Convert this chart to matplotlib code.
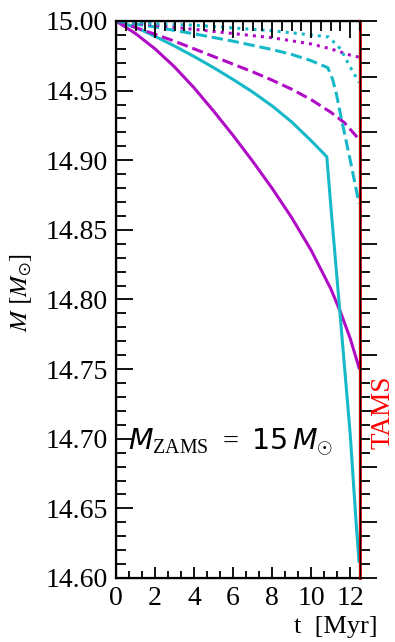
import matplotlib
matplotlib.use("Agg")
import matplotlib.pyplot as plt
from matplotlib.ticker import MultipleLocator, NullFormatter

plt.rcParams['font.family'] = ['Liberation Serif', 'DejaVu Serif']
plt.rcParams['mathtext.fontset'] = 'custom'
plt.rcParams['mathtext.rm'] = 'Liberation Serif'
plt.rcParams['mathtext.it'] = 'DejaVu Sans:italic'
plt.rcParams['mathtext.sf'] = 'DejaVu Sans'

# time [Myr] and mass [Msun]
t_mag_solid = [0, 1, 2, 3, 4, 5, 6, 7, 8, 9, 10, 11, 11.5, 12, 12.45]
m_mag_solid = [15.000, 14.991, 14.980, 14.967, 14.952, 14.9353, 14.9178, 14.8993,
               14.8798, 14.8588, 14.8353, 14.8078, 14.791, 14.772, 14.751]

t_cyan_solid = [0, 1, 2, 3, 4, 5, 6, 7, 8, 9, 10, 10.8, 11, 11.5, 12, 12.3, 12.45]
m_cyan_solid = [15.000, 14.9955, 14.989, 14.982, 14.9745, 14.9665, 14.958, 14.949,
                14.939, 14.9275, 14.914, 14.9025, 14.868, 14.786, 14.703, 14.640, 14.612]

t_mag_dash = [0, 1, 2, 3, 4, 5, 6, 7, 8, 9, 10, 11, 11.7, 12.45]
m_mag_dash = [15.000, 14.9953, 14.9905, 14.9855, 14.980, 14.9745, 14.969, 14.9635,
              14.9575, 14.951, 14.9435, 14.9345, 14.927, 14.915]

t_cyan_dash = [0, 2, 4, 6, 8, 9, 10, 10.85, 11.1, 11.3, 11.5, 12, 12.45]
m_cyan_dash = [15.000, 14.9957, 14.9908, 14.9855, 14.9795, 14.976, 14.9715, 14.9665,
               14.958, 14.947, 14.933, 14.900, 14.869]

t_mag_dot = [0, 2, 4, 6, 8, 10, 11, 12, 12.45]
m_mag_dot = [15.000, 14.997, 14.994, 14.991, 14.988, 14.9835, 14.980, 14.9755, 14.974]

t_cyan_dot = [0, 2, 4, 6, 8, 10, 10.9, 11.5, 12, 12.45]
m_cyan_dot = [15.000, 14.998, 14.997, 14.995, 14.993, 14.990, 14.9885, 14.980, 14.967, 14.956]

t_tams = 12.5

MAG = '#b10cc5'
CYAN = '#17b8c8'

fig = plt.figure(figsize=(3.95, 6.42), dpi=100)
ax = fig.add_axes([116/395, 1 - 578/642, 244/395, 557/642])

ax.plot(t_mag_solid, m_mag_solid, color=MAG, lw=2.2, ls='-')
ax.plot(t_cyan_solid, m_cyan_solid, color=CYAN, lw=2.2, ls='-')
ax.plot(t_mag_dash, m_mag_dash, color=MAG, lw=2.2, ls='--')
ax.plot(t_cyan_dash, m_cyan_dash, color=CYAN, lw=2.2, ls='--')
ax.plot(t_mag_dot, m_mag_dot, color=MAG, lw=2.2, ls=':')
ax.plot(t_cyan_dot, m_cyan_dot, color=CYAN, lw=2.2, ls=':')

ax.set_xlim(0, t_tams)
ax.set_ylim(14.60, 15.00)

ax.xaxis.set_major_locator(MultipleLocator(2))
ax.xaxis.set_minor_locator(MultipleLocator(2/3))
ax.yaxis.set_major_locator(MultipleLocator(0.05))
ax.yaxis.set_minor_locator(MultipleLocator(0.01))
ax.yaxis.set_major_formatter(lambda v, p: "%.2f" % v)
ax.tick_params(which='both', direction='in', left=True, right=True,
               bottom=True, top=False, width=1.3, labelsize=20)
ax.tick_params(axis='y', which='major', length=12, pad=6)
ax.tick_params(axis='y', which='minor', length=7)
ax.tick_params(axis='x', which='major', length=8, pad=6)
ax.tick_params(axis='x', which='minor', length=5)
for s in ax.spines.values():
    s.set_linewidth(1.6)

# top ticks
axt = ax.twiny()
axt.set_xlim(ax.get_xlim())
axt.xaxis.set_major_locator(MultipleLocator(2))
axt.xaxis.set_minor_locator(MultipleLocator(0.5))
axt.xaxis.set_major_formatter(NullFormatter())
axt.tick_params(axis='x', which='both', direction='in', width=1.3)
axt.tick_params(axis='x', which='major', length=12)
axt.tick_params(axis='x', which='minor', length=7)

# outward ticks on right
axr = ax.twinx()
axr.set_ylim(ax.get_ylim())
axr.yaxis.set_major_locator(MultipleLocator(0.04))
axr.yaxis.set_minor_locator(MultipleLocator(0.01))
axr.yaxis.set_major_formatter(NullFormatter())
axr.tick_params(axis='y', which='both', direction='out', width=1.3)
axr.tick_params(axis='y', which='major', length=12)
axr.tick_params(axis='y', which='minor', length=7)

ax.axvline(t_tams, color='red', lw=2, clip_on=False, zorder=10)

fig.text(383/395, 1 - 412/642, 'TAMS', color='red', rotation=90,
         ha='center', va='center', fontsize=19.5)
fig.text(21/395, 1 - 292/642, r'$M\ [M_{\odot}]$', rotation=90,
         ha='center', va='center', fontsize=18, math_fontfamily='stix')
fig.text(378/395, 1 - 627/642, 't  [Myr]', ha='right', va='center', fontsize=19)
ax.text(0.05, 0.245, r'$M_{\mathrm{ZAMS}}\;=\;\mathsf{15}\,M_{\odot}$',
        transform=ax.transAxes, ha='left', va='center', fontsize=20.5,
        math_fontfamily='custom')

fig.savefig('out.png', dpi=100)
